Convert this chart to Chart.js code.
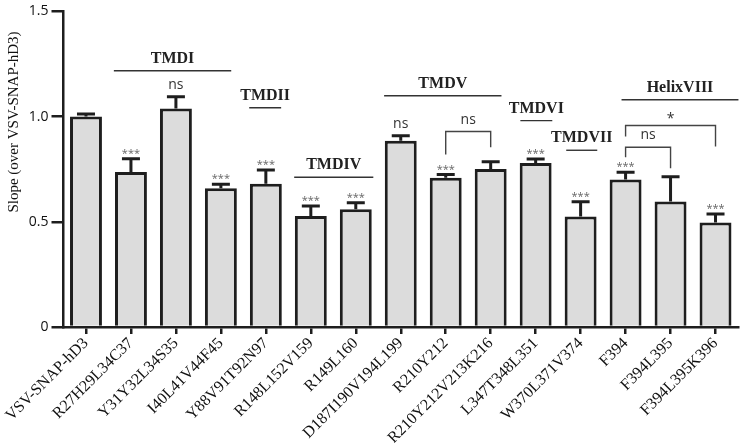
<!DOCTYPE html>
<html>
<head>
<meta charset="utf-8">
<script src="https://cdn.jsdelivr.net/npm/chart.js@4"></script>
<style>
  html, body { margin: 0; padding: 0; background: #fff; }
</style>
</head>
<body>
<canvas id="chart" width="745" height="443"></canvas>
<script>
// Data
const categories = ['VSV-SNAP-hD3', 'R27H29L34C37', 'Y31Y32L34S35', 'I40L41V44F45', 'Y88V91T92N97',
  'R148L152V159', 'R149L160', 'D187I190V194L199', 'R210Y212', 'R210Y212V213K216',
  'L347T348L351', 'W370L371V374', 'F394', 'F394L395', 'F394L395K396'];
const slopeMeans = [1.0, 0.737, 1.039, 0.659, 0.681, 0.528, 0.56, 0.885, 0.709, 0.751, 0.78, 0.525, 0.701, 0.596, 0.497];
const slopeErrors = [0.012, 0.063, 0.055, 0.02, 0.065, 0.047, 0.031, 0.024, 0.016, 0.034, 0.019, 0.07, 0.035, 0.118, 0.04];
const barMarks = ['', '***', 'ns', '***', '***', '***', '***', 'ns', '***', '', '***', '***', '***', '', '***'];
const yTicks = [0, 0.5, 1, 1.5];
const yTitle = 'Slope (over VSV-SNAP-hD3)';

// Domain groups (category index span, value level of the line)
const groupLabels = ['TMDI', 'TMDII', 'TMDIV', 'TMDV', 'TMDVI', 'TMDVII', 'HelixVIII'];
const groupStart = [0.62, 3.63, 4.63, 6.63, 9.66, 10.68, 11.91];
const groupEnd = [3.23, 4.34, 6.39, 9.24, 10.37, 11.37, 14.51];
const groupLevel = [1.218, 1.042, 0.712, 1.099, 0.981, 0.84, 1.08];

// Comparison brackets
const bracketText = ['ns', 'ns', '*'];
const bracketFrom = [8, 12, 12];
const bracketTo = [9, 13, 14];
const bracketLevel = [0.929, 0.854, 0.958];
const bracketLeftEnd = [0.82, 0.807, 0.906];
const bracketRightEnd = [0.854, 0.755, 0.858];

const ink = '#1e1e1e';
const sans = '"Open Sans", sans-serif';
const serif = '"Liberation Serif", serif';

const annotations = {
  id: 'annotations',
  afterDatasetsDraw(chart) {
    const { ctx, scales: { x, y } } = chart;
    ctx.save();

    // error bars + significance marks
    slopeMeans.forEach((v, i) => {
      const cx = x.getPixelForValue(i);
      const base = y.getPixelForValue(v);
      const top = y.getPixelForValue(v + slopeErrors[i]);
      ctx.strokeStyle = ink;
      ctx.lineWidth = 3;
      ctx.beginPath();
      ctx.moveTo(cx, base);
      ctx.lineTo(cx, top);
      ctx.moveTo(cx - 9, top);
      ctx.lineTo(cx + 9, top);
      ctx.stroke();

      const mark = barMarks[i];
      if (!mark) return;
      ctx.textAlign = 'center';
      ctx.textBaseline = 'middle';
      if (mark === 'ns') {
        ctx.fillStyle = '#333';
        ctx.font = '14px ' + sans;
        ctx.fillText(mark, cx, top - 12);
      } else {
        ctx.fillStyle = '#666';
        ctx.font = '11px ' + sans;
        ctx.fillText(mark, cx, top - 5);
      }
    });

    // domain groups
    groupLabels.forEach((label, i) => {
      const x0 = x.getPixelForValue(groupStart[i]);
      const x1 = x.getPixelForValue(groupEnd[i]);
      const ly = y.getPixelForValue(groupLevel[i]);
      ctx.strokeStyle = '#333';
      ctx.lineWidth = 1.4;
      ctx.beginPath();
      ctx.moveTo(x0, ly);
      ctx.lineTo(x1, ly);
      ctx.stroke();
      ctx.fillStyle = '#222';
      ctx.font = 'bold 16px ' + serif;
      ctx.textAlign = 'center';
      ctx.textBaseline = 'middle';
      ctx.fillText(label, (x0 + x1) / 2, ly - 12);
    });

    // brackets
    bracketText.forEach((t, i) => {
      const x0 = x.getPixelForValue(bracketFrom[i]);
      const x1 = x.getPixelForValue(bracketTo[i]);
      const by = y.getPixelForValue(bracketLevel[i]);
      ctx.strokeStyle = '#444';
      ctx.lineWidth = 1.4;
      ctx.beginPath();
      ctx.moveTo(x0, y.getPixelForValue(bracketLeftEnd[i]));
      ctx.lineTo(x0, by);
      ctx.lineTo(x1, by);
      ctx.lineTo(x1, y.getPixelForValue(bracketRightEnd[i]));
      ctx.stroke();
      ctx.fillStyle = '#333';
      ctx.font = '14px ' + sans;
      ctx.textAlign = 'center';
      ctx.textBaseline = 'middle';
      ctx.fillText(t, (x0 + x1) / 2, by - (t === '*' ? 6 : 12));
    });

    // y axis title, sits above the axis middle like the original
    ctx.translate(14, 122);
    ctx.rotate(-Math.PI / 2);
    ctx.fillStyle = '#111';
    ctx.font = '15px ' + serif;
    ctx.textAlign = 'center';
    ctx.textBaseline = 'middle';
    ctx.fillText(yTitle, 0, 0);

    ctx.restore();
  }
};

new Chart(document.getElementById('chart'), {
  type: 'bar',
  data: {
    labels: categories,
    datasets: [{
      data: slopeMeans,
      backgroundColor: '#dcdcdc',
      borderColor: ink,
      borderWidth: 3,
      categoryPercentage: 1,
      barPercentage: 0.71
    }]
  },
  options: {
    responsive: false,
    animation: false,
    devicePixelRatio: 1,
    layout: { padding: { left: 0, right: 7, top: 10, bottom: 0 } },
    plugins: { legend: { display: false }, tooltip: { enabled: false } },
    scales: {
      x: {
        grid: { offset: false, drawOnChartArea: false, tickLength: 7, color: ink, lineWidth: 2.5 },
        border: { color: ink, width: 2.5 },
        ticks: {
          autoSkip: false, maxRotation: 45, minRotation: 45, padding: 0,
          color: '#111', font: { family: serif, size: 16 }
        },
        afterFit(s) { s.height = 116; }
      },
      y: {
        min: 0,
        max: 1.5,
        afterBuildTicks(s) { s.ticks = yTicks.map(v => ({ value: v })); },
        grid: { drawOnChartArea: false, tickLength: 12, color: ink, lineWidth: 2.5 },
        border: { color: ink, width: 2.5 },
        ticks: { color: '#111', padding: 3, font: { family: sans, size: 14 } },
        afterFit(s) { s.width = 63.5; }
      }
    }
  },
  plugins: [annotations]
});
</script>
</body>
</html>
